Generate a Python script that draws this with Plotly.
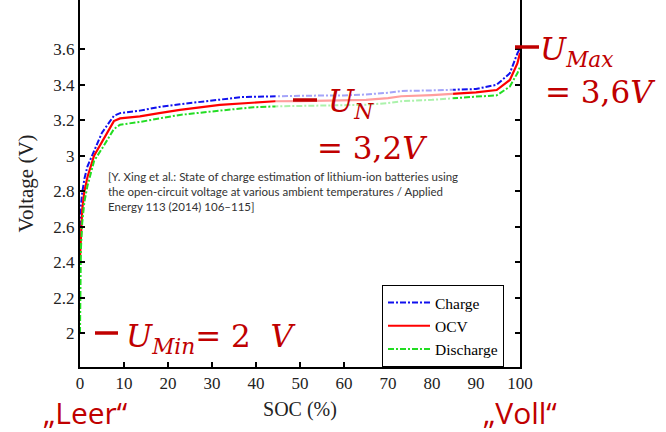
import plotly.graph_objects as go

# ---------------- data ----------------
soc_charge = [0, 0.05, 0.2, 0.5, 1, 1.7, 3.2, 5, 7.7, 9.1, 13.6, 18, 22.7, 25.8, 31.8, 36.4, 44.3,
              50, 60, 65, 70, 73, 80, 85, 90, 94.7, 97.7, 99.4, 99.9]
v_charge = [2.60, 2.66, 2.72, 2.79, 2.87, 2.94, 3.03, 3.13, 3.225, 3.24, 3.254, 3.275, 3.29, 3.298, 3.316, 3.33, 3.335,
            3.338, 3.34, 3.345, 3.355, 3.365, 3.368, 3.37, 3.376, 3.40, 3.465, 3.577, 3.60]

soc_ocv = [0, 0.1, 0.3, 0.5, 1, 1.7, 3.2, 5, 7.7, 9.1, 13.6, 18, 22.7, 31.8, 44.3,
           50, 60, 65, 70, 73, 80, 85, 90, 94.7, 97.7, 99.4, 100]
v_ocv = [2.42, 2.50, 2.60, 2.695, 2.80, 2.88, 3.00, 3.08, 3.195, 3.21, 3.222, 3.24, 3.258, 3.286, 3.307,
         3.308, 3.31, 3.315, 3.325, 3.335, 3.342, 3.35, 3.357, 3.37, 3.427, 3.52, 3.58]

soc_dis = [0, 0.05, 0.1, 0.2, 0.5, 1, 1.7, 3.2, 5, 7.7, 9.1, 13.6, 18, 22.7, 31.8, 39.4, 44.3,
           50, 60, 65, 70, 73, 80, 85, 90, 94.7, 97.7, 99.4, 100]
v_dis = [2.0, 2.2, 2.35, 2.47, 2.62, 2.74, 2.83, 2.97, 3.04, 3.15, 3.175, 3.19, 3.21, 3.23, 3.254, 3.273, 3.278,
         3.28, 3.283, 3.287, 3.297, 3.307, 3.315, 3.322, 3.333, 3.34, 3.39, 3.465, 3.50]

series_names = ["Charge", "OCV", "Discharge"]

x_ticks = [0, 10, 20, 30, 40, 50, 60, 70, 80, 90, 100]
x_tick_labels = ["0", "10", "20", "30", "40", "50", "60", "70", "80", "90", "100"]
y_ticks = [2.0, 2.2, 2.4, 2.6, 2.8, 3.0, 3.2, 3.4, 3.6]
y_tick_labels = ["2", "2.2", "2.4", "2.6", "2.8", "3", "3.2", "3.4", "3.6"]

citation = ("[Y. Xing et al.: State of charge estimation of lithium-ion batteries using<br>"
            "the open-circuit voltage at various ambient temperatures / Applied<br>"
            "Energy 113 (2014) 106–115]")

# ---------------- geometry ----------------
W, H = 666, 432
L, R, T, B = 80, 146, 0, 65
PW, PH = W - L - R, H - T - B


def px(x, y):
    """pixel position -> paper coordinates (for text placed around the plot)"""
    return (x - L) / PW, (H - B - y) / PH


RED = "#C00000"
SERIF = "Liberation Serif, Times New Roman, serif"
MATH = "DejaVu Serif"

fig = go.Figure()
fig.add_trace(go.Scatter(x=soc_charge, y=v_charge, mode="lines", name=series_names[0],
                         line=dict(color="#1010EE", width=2, dash="6px,2px,2px,2px")))
fig.add_trace(go.Scatter(x=soc_ocv, y=v_ocv, mode="lines", name=series_names[1],
                         line=dict(color="#FF0000", width=2.2)))
fig.add_trace(go.Scatter(x=soc_dis, y=v_dis, mode="lines", name=series_names[2],
                         line=dict(color="#22DD22", width=2, dash="6px,2px,2px,2px")))

shapes = []
# faded band (semi-transparent overlay in the source picture)
shapes.append(dict(type="rect", xref="x", yref="y", x0=44.4, x1=84.8, y0=3.26, y1=3.40,
                   fillcolor="white", opacity=0.62, line=dict(width=0), layer="above"))
# level dashes
for (x0, x1, y) in [(293, 317, 100), (515, 539, 47), (95, 118, 333)]:
    a0, b0 = px(x0, y)
    a1, _ = px(x1, y)
    shapes.append(dict(type="line", xref="paper", yref="paper", x0=a0, x1=a1, y0=b0, y1=b0,
                       line=dict(color=RED, width=3.5), layer="above"))

ann = []


def text(x, y, s, size, font=MATH, color=RED, xanchor="left", yanchor="middle", align="left"):
    ax, ay = px(x, y)
    ann.append(dict(x=ax, y=ay, xref="paper", yref="paper", text=s, showarrow=False,
                    xanchor=xanchor, yanchor=yanchor, align=align,
                    font=dict(family=font, size=size, color=color)))


text(326, 104, "<i>U</i><sub><i>N</i></sub>", 31)
text(315, 148, "= 3,2<i>V</i>", 31)
text(538, 52, "<i>U</i><sub><i>Max</i></sub>", 31)
text(543, 92, "= 3,6<i>V</i>", 31)
text(124, 338, "<i>U</i><sub><i>Min</i></sub>=\u00a02\u00a0\u00a0<i>V</i>", 31)
text(41, 412, "„Leer“", 30, font="Open Sans")
text(481, 412, "„Voll“", 30, font="Open Sans")
text(106, 192, citation, 11.5, font="Lato", color="#333333")

fig.update_layout(
    width=W, height=H,
    margin=dict(l=L, r=R, t=T, b=B, pad=0),
    paper_bgcolor="white", plot_bgcolor="white",
    shapes=shapes, annotations=ann,
    showlegend=True,
    legend=dict(x=(382 - L) / PW, y=(H - B - 285) / PH, xanchor="left", yanchor="top",
                bgcolor="white", bordercolor="black", borderwidth=1,
                font=dict(family=SERIF, size=15.5, color="black"),
                itemwidth=42, tracegroupgap=0),
    xaxis=dict(range=[0, 100], tickvals=x_ticks, ticktext=x_tick_labels,
               showline=True, linecolor="black", linewidth=2, mirror=False,
               ticks="inside", ticklen=5, tickwidth=1.5, tickcolor="black",
               showgrid=False, zeroline=False, automargin=False,
               tickfont=dict(family=SERIF, size=17, color="#222222"),
               title=dict(text="SOC (%)", font=dict(family=SERIF, size=20, color="#222222"), standoff=10)),
    yaxis=dict(range=[1.8085, 3.8778], tickvals=y_ticks, ticktext=y_tick_labels,
               showline=True, linecolor="black", linewidth=2, mirror="ticks",
               ticks="inside", ticklen=5, tickwidth=1.5, tickcolor="black",
               showgrid=False, zeroline=False, automargin=False,
               tickfont=dict(family=SERIF, size=17, color="#222222"),
               title=dict(text="Voltage (V)", font=dict(family=SERIF, size=21, color="#222222"), standoff=14)),
)

fig.write_html("out.html", config={"displayModeBar": False},
               post_script="document.body.style.margin='0px';")
